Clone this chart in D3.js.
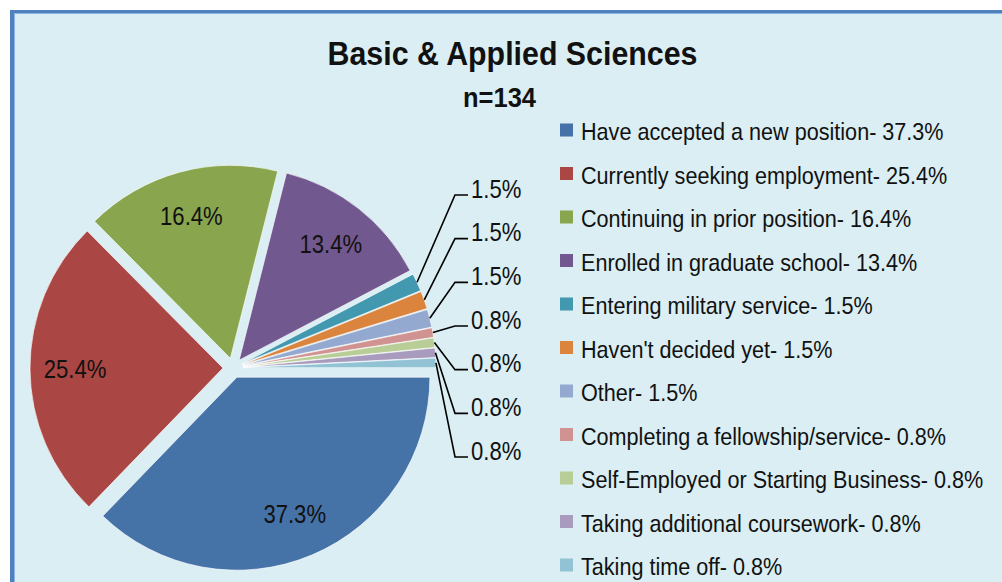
<!DOCTYPE html>
<html>
<head>
<meta charset="utf-8">
<script src="https://cdn.jsdelivr.net/npm/d3@7"></script>
<style>
  html, body { margin: 0; padding: 0; background: #ffffff; }
  svg { display: block; }
  text { font-family: "Liberation Sans", Arial, sans-serif; fill: #111; }
</style>
</head>
<body>
<svg id="chart" width="1002" height="582"></svg>
<script>
// ---- data ----
const categories = [
  "Have accepted a new position",
  "Currently seeking employment",
  "Continuing in prior position",
  "Enrolled in graduate school",
  "Entering military service",
  "Haven't decided yet",
  "Other",
  "Completing a fellowship/service",
  "Self-Employed or Starting Business",
  "Taking additional coursework",
  "Taking time off"
];
const values = [37.3, 25.4, 16.4, 13.4, 1.5, 1.5, 1.5, 0.8, 0.8, 0.8, 0.8];
const colors = ["#4572A7", "#AA4643", "#89A54E", "#71588F", "#4198AF", "#DB843D",
                "#93A9CF", "#D19392", "#B9CD96", "#A99BBD", "#92C3D5"];
const title = "Basic & Applied Sciences";
const subtitle = "n=134";

// ---- layout ----
const W = 1002, H = 582;
const svg = d3.select("#chart");
const cx = 233, cy = 368, R = 193, explode = 10;

// narrow text helper (emulates Arial Narrow by horizontal scaling)
function ntext(g, x, y, str, size, sx, anchor, weight) {
  return g.append("text")
    .attr("transform", `translate(${x},${y}) scale(${sx},1)`)
    .attr("text-anchor", anchor || "start")
    .attr("font-size", size)
    .attr("font-weight", weight || "normal")
    .text(str);
}

// frame
svg.append("rect").attr("x", 10).attr("y", 10).attr("width", W).attr("height", H).attr("fill", "#4F81BD");
svg.append("rect").attr("x", 14).attr("y", 13).attr("width", W).attr("height", H).attr("fill", "#8DB3E2");
svg.append("rect").attr("x", 15).attr("y", 14).attr("width", W).attr("height", H).attr("fill", "#DAEEF3");

// titles
ntext(svg, 512.5, 65, title, 33, 0.92, "middle", "bold");
ntext(svg, 499.5, 107, subtitle, 28, 0.91, "middle", "bold");

// pie
const data = categories.map((c, i) => ({ cat: c, value: values[i], color: colors[i] }));
const pie = d3.pie().sort(null).value(d => d.value)
  .startAngle(Math.PI / 2).endAngle(Math.PI / 2 + 2 * Math.PI);
const arcs = pie(data);
const arc = d3.arc().innerRadius(0).outerRadius(R);
const mid = a => (a.startAngle + a.endAngle) / 2;
const fmt = v => v.toFixed(1) + "%";

const gPie = svg.append("g");
arcs.forEach(a => {
  const m = mid(a);
  const ox = cx + explode * Math.sin(m), oy = cy - explode * Math.cos(m);
  const g = gPie.append("g").attr("transform", `translate(${ox},${oy})`);
  g.append("path").attr("d", arc(a)).attr("fill", a.data.color)
    .attr("stroke", "#ffffff").attr("stroke-width", 0.8).attr("stroke-opacity", 0.8);
  if (a.data.value >= 5) {
    const lr = 148;
    ntext(g, lr * Math.sin(m), -lr * Math.cos(m) + 9.5, fmt(a.data.value), 26, 0.85, "middle");
  }
});

// outside labels with leader lines for small slices
const small = arcs.filter(a => a.data.value < 5);
const yLab = d3.scalePoint().domain(small.map(a => a.data.cat)).range([cy - 180, cy + 82]);
const gLab = svg.append("g");
small.forEach(a => {
  const m = mid(a);
  const sx = cx + (R + explode) * Math.sin(m), sy = cy - (R + explode) * Math.cos(m);
  const ty = yLab(a.data.cat);
  const tx = cx + 238;
  gLab.append("polyline")
    .attr("points", [[sx, sy], [tx - 16, ty + 7], [tx - 3, ty + 7]].map(p => p.join(",")).join(" "))
    .attr("fill", "none").attr("stroke", "#000").attr("stroke-width", 1.6);
  ntext(gLab, tx, ty + 9.5, fmt(a.data.value), 26, 0.85, "start");
});

// legend
const yLeg = d3.scalePoint().domain(categories).range([130, 565]);
const gLeg = svg.append("g");
data.forEach(d => {
  const y = yLeg(d.cat);
  gLeg.append("rect").attr("x", 560).attr("y", y - 6.5).attr("width", 13).attr("height", 13).attr("fill", d.color);
  ntext(gLeg, 581, y + 10, `${d.cat}- ${fmt(d.value)}`, 24, 0.90, "start");
});
</script>
</body>
</html>
